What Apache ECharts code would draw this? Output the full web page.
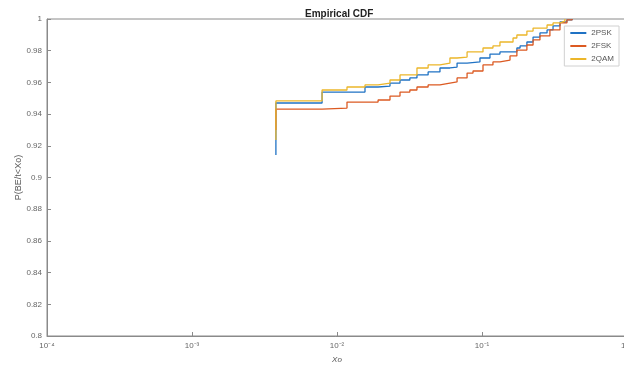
<!DOCTYPE html>
<html>
<head>
<meta charset="utf-8">
<script src="https://cdn.jsdelivr.net/npm/echarts@6/dist/echarts.min.js"></script>
<style>
  html, body { margin: 0; padding: 0; background: #ffffff; }
  #chart { width: 624px; height: 369px; }
</style>
</head>
<body>
<div id="chart"></div>
<script>
// Series names
const seriesNames = ['2PSK', '2FSK', '2QAM'];

// Empirical CDF samples: Xo values and P(BE/t<Xo)
const psk2X = [0.00379, 0.00379, 0.00789, 0.0156, 0.0192, 0.0232, 0.0272, 0.0318, 0.0356, 0.0425, 0.0513, 0.0601, 0.0673, 0.0789, 0.0968, 0.1135, 0.133, 0.156, 0.174, 0.183, 0.204, 0.225, 0.251, 0.281, 0.309, 0.345, 0.385, 0.418];
const psk2P = [0.9142, 0.9470, 0.9539, 0.9571, 0.9577, 0.9596, 0.9615, 0.9628, 0.9647, 0.9666, 0.9691, 0.9697, 0.9722, 0.9729, 0.9754, 0.9779, 0.9792, 0.9792, 0.9817, 0.9830, 0.9855, 0.9886, 0.9912, 0.9931, 0.9956, 0.9981, 0.9994, 1.0];

const fsk2X = [0.00379, 0.00379, 0.00789, 0.01172, 0.0192, 0.0232, 0.0272, 0.0318, 0.0356, 0.0425, 0.0513, 0.0601, 0.0673, 0.0789, 0.0867, 0.1016, 0.119, 0.133, 0.156, 0.174, 0.204, 0.225, 0.251, 0.294, 0.345, 0.385, 0.418];
const fsk2P = [0.9300, 0.9432, 0.9438, 0.9476, 0.9489, 0.9514, 0.9539, 0.9552, 0.9571, 0.9584, 0.9596, 0.9603, 0.9628, 0.9659, 0.9672, 0.9710, 0.9729, 0.9741, 0.9767, 0.9804, 0.9836, 0.9868, 0.9893, 0.9931, 0.9975, 0.9994, 1.0];

const qam2X = [0.00379, 0.00379, 0.00789, 0.01172, 0.0156, 0.0192, 0.0232, 0.0272, 0.0356, 0.0425, 0.0513, 0.0601, 0.0673, 0.0789, 0.0867, 0.1016, 0.119, 0.133, 0.1637, 0.174, 0.204, 0.225, 0.281, 0.309, 0.345, 0.373];
const qam2P = [0.9237, 0.9483, 0.9552, 0.9571, 0.9584, 0.9596, 0.9615, 0.9647, 0.9691, 0.9710, 0.9722, 0.9754, 0.9760, 0.9792, 0.9792, 0.9817, 0.9830, 0.9855, 0.9880, 0.9899, 0.9924, 0.9943, 0.9962, 0.9975, 0.9987, 1.0];

// Axis ranges and tick labels
const xMin = 1e-4, xMax = 1;
const yMin = 0.8, yMax = 1, yStep = 0.02;
const supDigits = { '-': '\u207B', '0': '\u2070', '1': '\u00B9', '2': '\u00B2', '3': '\u00B3', '4': '\u2074' };

const colors = ['#1f72c4', '#dc5a22', '#ecb62a'];
const font = 'Liberation Sans, Arial, sans-serif';

function pairs(xs, ps) { return xs.map((x, i) => [x, ps[i]]); }

function decadeLabel(v) {
  const e = Math.round(Math.log10(v));
  return '10' + String(e).split('').map(c => supDigits[c]).join('');
}

const chart = echarts.init(document.getElementById('chart'), null, { renderer: 'canvas' });

const lineSeries = [
  { name: seriesNames[0], data: pairs(psk2X, psk2P), color: colors[0] },
  { name: seriesNames[1], data: pairs(fsk2X, fsk2P), color: colors[1] },
  { name: seriesNames[2], data: pairs(qam2X, qam2P), color: colors[2] }
].map(s => ({
  name: s.name,
  type: 'line',
  step: 'end',
  data: s.data,
  showSymbol: false,
  symbol: 'none',
  lineStyle: { width: 1.3, color: s.color },
  itemStyle: { color: s.color },
  animation: false
}));

chart.setOption({
  animation: false,
  backgroundColor: '#ffffff',
  title: {
    text: 'Empirical CDF',
    left: 300,
    top: 4,
    textStyle: { fontFamily: font, fontSize: 10, fontWeight: 'bold', color: '#222' }
  },
  grid: {
    left: 47, right: -3, top: 19, bottom: 33,
    show: true, borderColor: '#8a8a8a', borderWidth: 1,
    outerBoundsMode: 'none'
  },
  legend: {
    orient: 'vertical',
    right: 5,
    top: 26,
    itemWidth: 16,
    itemHeight: 2,
    itemGap: 5,
    padding: [3, 5, 3, 5],
    borderColor: '#d0d0d0',
    borderWidth: 1,
    backgroundColor: '#ffffff',
    textStyle: { fontFamily: font, fontSize: 8, color: '#555' },
    data: seriesNames
  },
  xAxis: {
    type: 'log',
    logBase: 10,
    min: xMin,
    max: xMax,
    name: 'Xo',
    nameLocation: 'middle',
    nameGap: 20,
    nameTextStyle: { fontFamily: font, fontSize: 8, fontStyle: 'italic', color: '#555' },
    axisLine: { lineStyle: { color: '#8a8a8a', width: 1 } },
    axisTick: { inside: true, length: 4, lineStyle: { color: '#8a8a8a' } },
    axisLabel: {
      formatter: decadeLabel,
      fontFamily: font,
      fontSize: 8, color: '#666', margin: 6
    },
    splitLine: { show: false }
  },
  yAxis: {
    type: 'value',
    min: yMin,
    max: yMax,
    interval: yStep,
    name: 'P(BE/t<Xo)',
    nameLocation: 'middle',
    nameRotate: 90,
    nameGap: 24,
    nameMoveOverlap: false,
    nameTextStyle: { fontFamily: font, fontSize: 9, color: '#555' },
    axisLine: { show: true, lineStyle: { color: '#8a8a8a', width: 1 } },
    axisTick: { show: true, inside: true, length: 4, lineStyle: { color: '#8a8a8a' } },
    axisLabel: {
      formatter: v => String(Math.round(v * 100) / 100),
      fontFamily: font,
      fontSize: 8, color: '#666', margin: 5
    },
    splitLine: { show: false }
  },
  series: lineSeries
});
</script>
</body>
</html>
